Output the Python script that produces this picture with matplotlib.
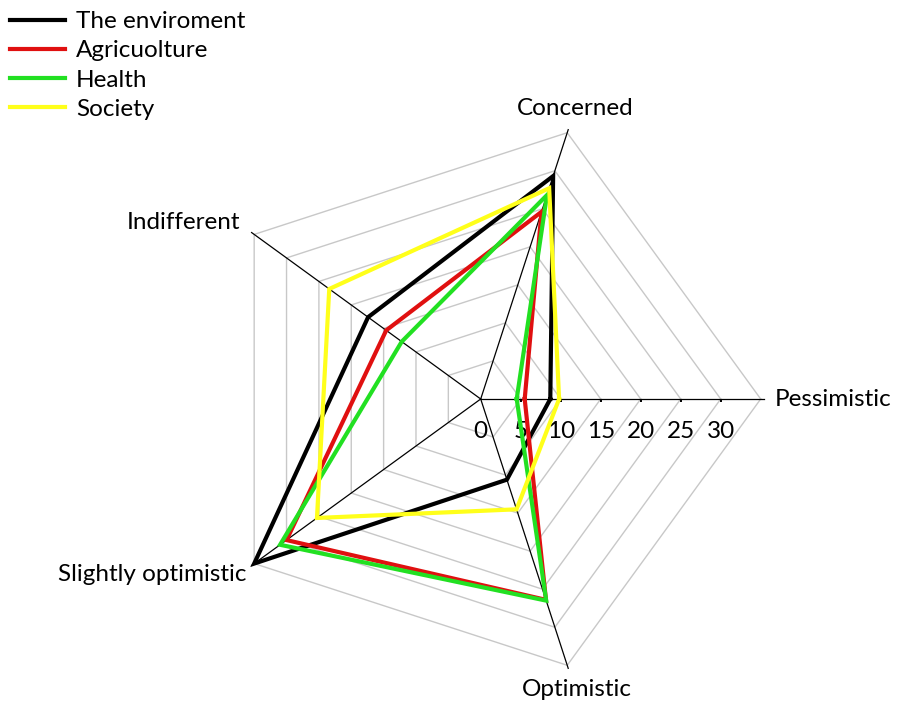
import numpy as np
import matplotlib
matplotlib.use("Agg")
import matplotlib.pyplot as plt
from matplotlib.transforms import offset_copy

plt.rcParams['font.family'] = ['Lato', 'DejaVu Sans']

categories = ["Pessimistic", "Concerned", "Indifferent", "Slightly optimistic", "Optimistic"]
series_names = ["The enviroment", "Agricuolture", "Health", "Society"]
environment = [8.7, 29.3, 17.4, 35.0, 10.6]
agriculture = [5.5, 24.6, 14.6, 30.0, 26.4]
health = [4.5, 26.8, 12.2, 31.0, 26.5]
society = [9.8, 27.7, 23.4, 25.3, 14.5]
tick_values = [0, 5, 10, 15, 20, 25, 30]
ring_values = [5, 10, 15, 20, 25, 30, 35]
colors = ["#000000", "#e01010", "#22e022", "#ffff1a"]

FS = 17.5
rmax = 35
W, H = 897, 707
fig = plt.figure(figsize=(W / 100, H / 100), dpi=100)
cx, cy, rad = 480.7, 399.0, 280.0
ax = fig.add_axes([(cx - rad) / W, (H - cy - rad) / H, 2 * rad / W, 2 * rad / H],
                  projection='polar')
ax.set_ylim(0, rmax)
ax.axis('off')

n = len(categories)
theta = np.deg2rad(np.arange(n) * 360.0 / n)
theta_c = np.append(theta, theta[0])

# grid pentagons
for rv in ring_values:
    ax.plot(theta_c, [rv] * (n + 1), color="#c8c8c8", lw=1.0, zorder=1, clip_on=False)
# spokes
for t in theta:
    ax.plot([t, t], [0, 35.4], color="black", lw=0.9, zorder=2, clip_on=False)

# tick marks and labels on Pessimistic axis
tick_trans = offset_copy(ax.transData, fig=fig, x=0, y=-33 * 72 / 100, units='points')
for v in tick_values:
    if v > 0:
        ax.plot([0, 0], [v, v], marker=[(0, 0), (0, -1)], markersize=4,
                color="black", mew=1.2, zorder=2, clip_on=False)
    ax.text(0, v, str(v), transform=tick_trans, ha='center', va='center',
            fontsize=FS, color="black")

data = [environment, agriculture, health, society]
lines = []
for vals, c, name in zip(data, colors, series_names):
    ln, = ax.plot(theta_c, list(vals) + [vals[0]], color=c, lw=3.0, zorder=3,
                  clip_on=False, label=name, solid_joinstyle='miter')
    lines.append(ln)

# category labels
label_pos = [(0, 36.8, 'left', 'center'),
             (72, 38.2, 'center', 'center'),
             (143.7, 37.3, 'right', 'center'),
             (216.9, 36.6, 'right', 'center'),
             (288.3, 38.3, 'center', 'center')]
for cat, (ang, r, ha, va) in zip(categories, label_pos):
    ax.text(np.deg2rad(ang), r, cat, ha=ha, va=va, fontsize=FS, color="black")

fig.legend(handles=lines, loc='upper left', bbox_to_anchor=(10 / W, 1 - 11 / H),
           frameon=False, fontsize=FS, handlelength=2.26, handletextpad=0.45,
           labelspacing=0.34, borderaxespad=0.0, borderpad=0.0)

fig.savefig("out.png", dpi=100)
